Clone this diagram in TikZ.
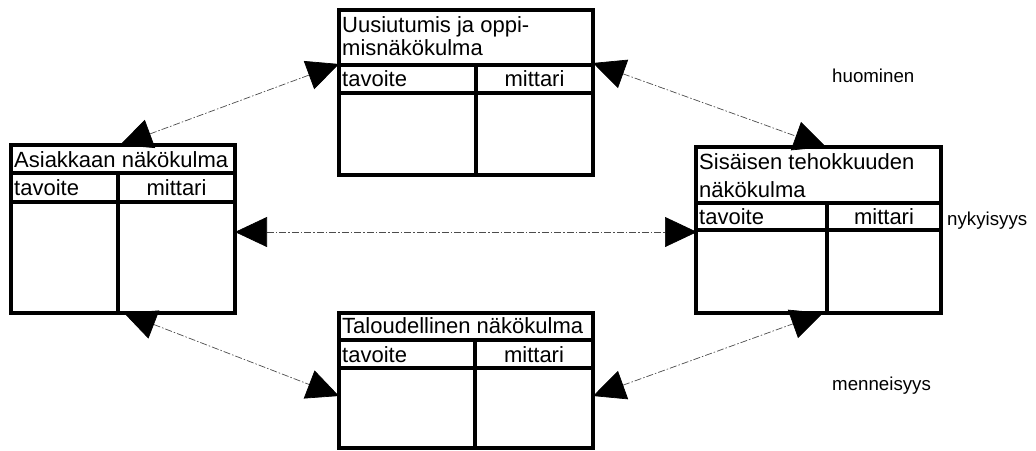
\documentclass[tikz,border=0pt]{standalone}
\usepackage{fontspec}
\setmainfont{Liberation Sans}
\usetikzlibrary{arrows.meta}

\tikzset{
  frame/.style={draw, line width=3.2pt, inner sep=0pt, outer sep=0pt, anchor=north west},
  rule/.style={line width=3.2pt, line cap=rect},
  boxtext/.style={inner sep=0pt, font=\fontsize{22}{23}\selectfont},
  sidetext/.style={inner sep=0pt, font=\fontsize{18.7}{20}\selectfont},
  headtip/.tip={Triangle[length=32pt,width=30pt,color=black]},
  link/.style={draw=black!70, line width=0.7pt,
    dash pattern=on 7pt off 2pt on 1.5pt off 2pt,
    {headtip}-{headtip}}
}

\begin{document}
\begin{tikzpicture}[x=1pt,y=-1pt]
\useasboundingbox (0,0) rectangle (1036,450);

% --- Uusiutumis ja oppimisnäkökulma (top) ---
\node[frame, minimum width=254pt, minimum height=165pt] (learn) at (339,10) {};
\draw[rule] (339,65) -- (593,65);
\draw[rule] (339,93) -- (593,93);
\draw[rule] (476,65) -- (476,175);
\node[boxtext, anchor=base west] (learnT1) at (342,32) {Uusiutumis ja oppi-};
\node[boxtext, anchor=base west] (learnT2) at (342,55) {misnäkökulma};
\node[boxtext, anchor=base west] (learnA) at (342,86) {tavoite};
\node[boxtext, anchor=base] (learnB) at (534.5,86) {mittari};

% --- Asiakkaan näkökulma (left) ---
\node[frame, minimum width=224pt, minimum height=168pt] (cust) at (11,145) {};
\draw[rule] (11,173) -- (235,173);
\draw[rule] (11,202) -- (235,202);
\draw[rule] (118,173) -- (118,313);
\node[boxtext, anchor=base west] (custT) at (14,167) {Asiakkaan näkökulma};
\node[boxtext, anchor=base west] (custA) at (14,195) {tavoite};
\node[boxtext, anchor=base] (custB) at (176.5,195) {mittari};

% --- Sisäisen tehokkuuden näkökulma (right) ---
\node[frame, minimum width=245pt, minimum height=166pt] (proc) at (696,147) {};
\draw[rule] (696,203) -- (941,203);
\draw[rule] (696,230) -- (941,230);
\draw[rule] (827,203) -- (827,313);
\node[boxtext, anchor=base west] (procT1) at (699,169) {Sisäisen tehokkuuden};
\node[boxtext, anchor=base west] (procT2) at (699,197) {näkökulma};
\node[boxtext, anchor=base west] (procA) at (699,224) {tavoite};
\node[boxtext, anchor=base] (procB) at (884,224) {mittari};

% --- Taloudellinen näkökulma (bottom) ---
\node[frame, minimum width=254pt, minimum height=135pt] (fin) at (339,313) {};
\draw[rule] (339,340) -- (593,340);
\draw[rule] (339,368) -- (593,368);
\draw[rule] (475,340) -- (475,448);
\node[boxtext, anchor=base west] (finT) at (342,333) {Taloudellinen näkökulma};
\node[boxtext, anchor=base west] (finA) at (342,362) {tavoite};
\node[boxtext, anchor=base] (finB) at (534,362) {mittari};

% --- time labels ---
\node[sidetext, anchor=base west] (tomorrow) at (832,82) {huominen};
\node[sidetext, anchor=base west] (present) at (947,225) {nykyisyys};
\node[sidetext, anchor=base west] (past) at (832,390) {menneisyys};

% --- connector end points on the box edges ---
\coordinate (custN) at (120,145);
\coordinate (learnW) at (339,64);
\coordinate (learnE) at (593,63);
\coordinate (procN) at (826,147);
\coordinate (custE) at (235,232);
\coordinate (procW) at (697,232);
\coordinate (custS) at (124,313);
\coordinate (finW) at (339,396);
\coordinate (finE) at (593,396);
\coordinate (procS) at (823,313);

% --- connectors ---
\draw[link] (custN) -- (learnW);
\draw[link] (learnE) -- (procN);
\draw[link] (custE) -- (procW);
\draw[link] (custS) -- (finW);
\draw[link] (finE) -- (procS);
\end{tikzpicture}
\end{document}
